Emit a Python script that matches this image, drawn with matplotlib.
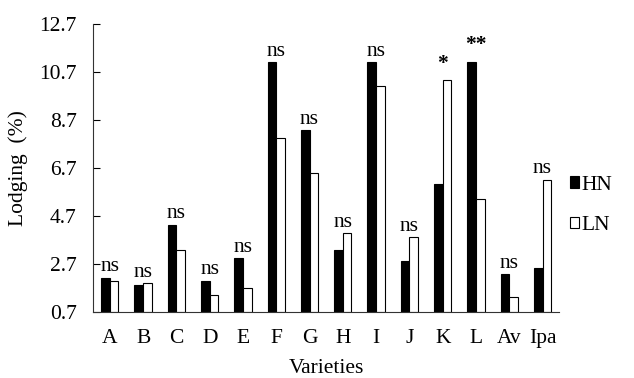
import matplotlib.pyplot as plt
import numpy as np

plt.rcParams["font.family"] = ["Liberation Serif", "DejaVu Serif"]

varieties = ["A", "B", "C", "D", "E", "F", "G", "H", "I", "J", "K", "L", "Av", "Ipa"]
hn = [2.13, 1.83, 4.33, 1.99, 2.94, 11.1, 8.28, 3.28, 11.1, 2.83, 6.03, 11.1, 2.28, 2.53]
ln = [1.99, 1.89, 3.28, 1.42, 1.71, 7.96, 6.48, 3.98, 10.12, 3.81, 10.34, 5.42, 1.30, 6.20]
signif = ["ns", "ns", "ns", "ns", "ns", "ns", "ns", "ns", "ns", "ns", "*", "**", "ns", "ns"]
yticks = [0.7, 2.7, 4.7, 6.7, 8.7, 10.7, 12.7]
BASE = 0.7
FS = 15.5


def main() -> None:
    fig = plt.figure(figsize=(6.34, 3.78), dpi=100)
    ax = fig.add_axes([0.147, 0.175, 0.735, 0.762])

    x = np.arange(len(varieties))
    w = 0.26
    ax.bar(x - w / 2, np.array(hn) - BASE, w, bottom=BASE, color="black",
           edgecolor="black", linewidth=0.8, label="HN")
    ax.bar(x + w / 2, np.array(ln) - BASE, w, bottom=BASE, color="white",
           edgecolor="black", linewidth=0.8, label="LN")

    for xi, h, l, s in zip(x, hn, ln, signif):
        top = max(h, l)
        star = "*" in s
        ax.annotate(s, (xi, top), xytext=(0, 5 if star else 1),
                    textcoords="offset points", ha="center", va="bottom",
                    fontsize=FS, fontweight="bold" if star else "normal")

    ax.set_xlim(-0.5, len(varieties) - 0.5)
    ax.set_ylim(0.7, 12.7)
    ax.set_yticks(yticks)
    ax.set_yticklabels([f"{t:.1f}" for t in yticks])
    ax.set_xticks(x)
    ax.set_xticklabels(varieties)
    ax.tick_params(axis="y", direction="in", length=5, labelsize=FS, pad=12)
    ax.tick_params(axis="x", length=0, labelsize=FS, pad=12)
    ax.spines["top"].set_visible(False)
    ax.spines["right"].set_visible(False)
    ax.spines["left"].set_color("#333333")
    ax.spines["bottom"].set_color("#333333")

    ax.set_xlabel("Varieties", fontsize=FS, labelpad=8)
    ax.set_ylabel("Lodging  (%)", fontsize=FS, labelpad=8)

    ax.legend(loc="center left", bbox_to_anchor=(0.99, 0.37), frameon=False,
              fontsize=FS, handlelength=0.45, handleheight=0.45,
              handletextpad=0.1, labelspacing=1.0, borderaxespad=0.3)

    fig.savefig("out.png", dpi=100)


if __name__ == "__main__":
    main()
